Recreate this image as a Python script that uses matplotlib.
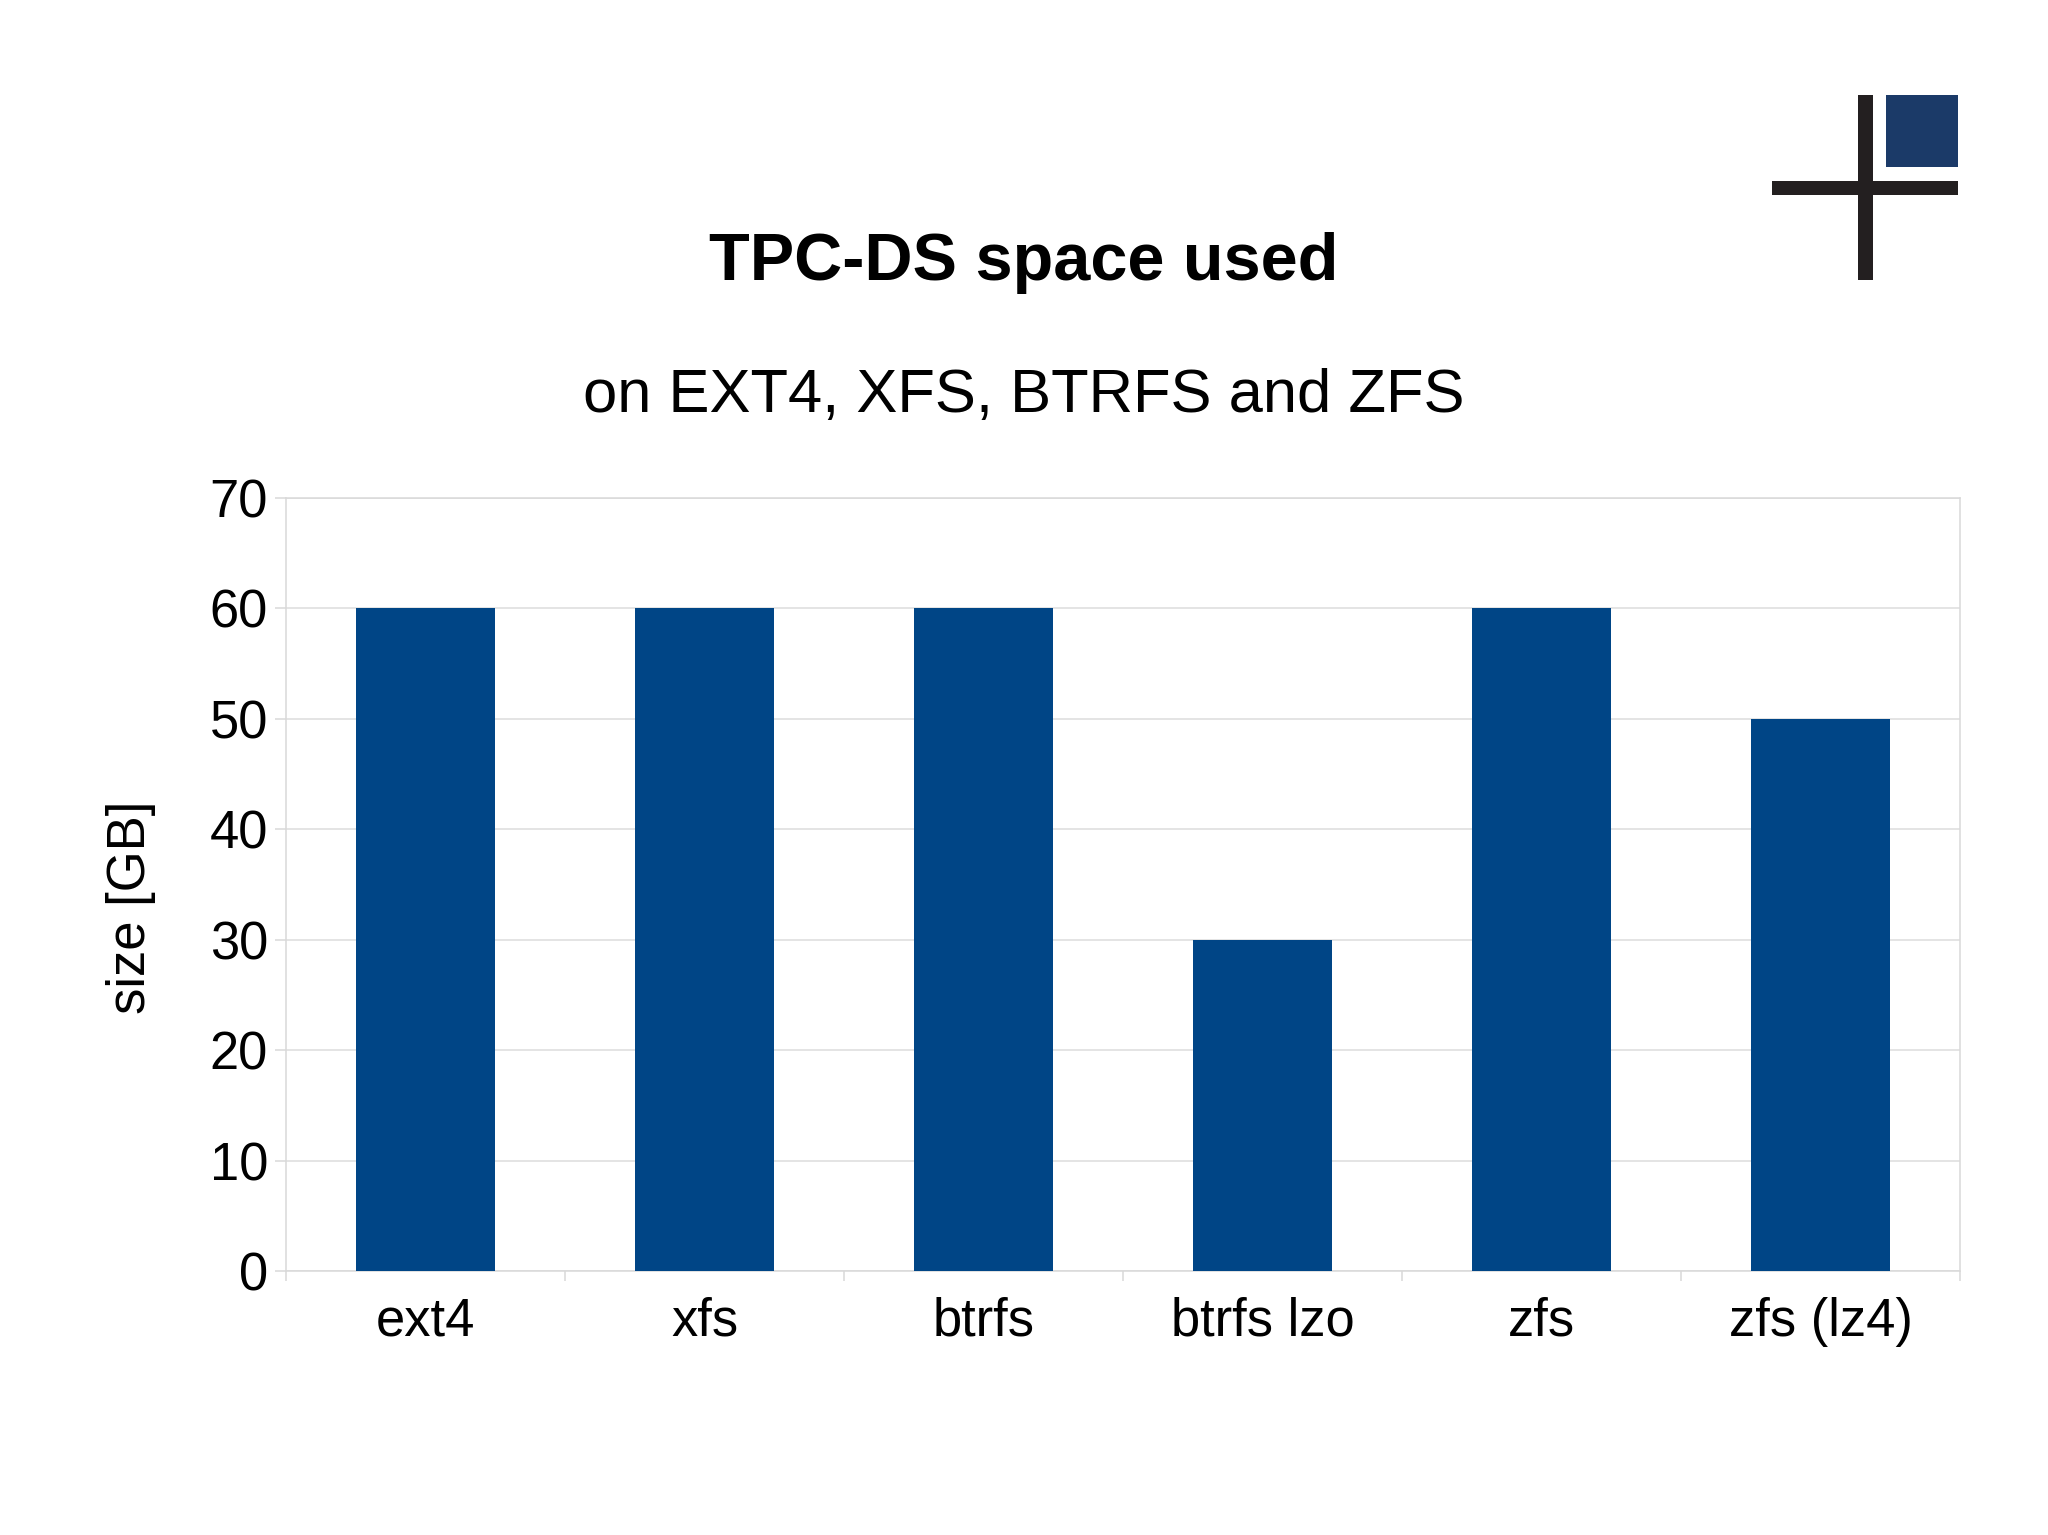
import matplotlib
matplotlib.use("Agg")
import matplotlib.pyplot as plt
from matplotlib.patches import Rectangle

categories = ["ext4", "xfs", "btrfs", "btrfs lzo", "zfs", "zfs (lz4)"]
values = [60, 60, 60, 30, 60, 50]
yticks = [0, 10, 20, 30, 40, 50, 60, 70]

W, H = 2048, 1535
plt.rcParams['font.family'] = ['Liberation Sans', 'DejaVu Sans']
fig = plt.figure(figsize=(W/100, H/100), dpi=100, facecolor='white')
L, R, T, B = 286, 1960, 498, 1271
ax = fig.add_axes([L/W, 1-B/H, (R-L)/W, (B-T)/H])
x = list(range(len(categories)))
ax.bar(x, values, width=0.5, color='#004586', zorder=3)
ax.set_xlim(-0.5, 5.5)
ax.set_ylim(0, 70)
ax.set_yticks(yticks)
ax.set_yticklabels([str(v) for v in yticks])
ax.set_xticks([i-0.5 for i in range(7)])
ax.set_xticklabels([])
ax.set_xticks(x, minor=True)
ax.set_xticklabels(categories, minor=True)
ax.tick_params(axis='x', which='major', length=7.5, width=1.1, color='#d9d9d9')
ax.tick_params(axis='x', which='minor', length=0, labelsize=37.8, pad=18.5, labelcolor='black')
ax.tick_params(axis='y', length=8, width=1.1, color='#d9d9d9', labelsize=37.8, pad=5, labelcolor='black')
ax.grid(axis='y', color='#dddddd', linewidth=1.1, zorder=0)
for s in ax.spines.values():
    s.set_color('#d9d9d9')
    s.set_linewidth(1.1)

fig.text(1024/W, 1-263/H, "TPC-DS space used", ha='center', va='center', fontsize=48, fontweight='bold', color='black')
fig.text(1024/W, 1-396/H, "on EXT4, XFS, BTRFS and ZFS", ha='center', va='center', fontsize=44.3, color='black')
fig.text(130.5/W, 1-907.5/H, "size [GB]", rotation=90, ha='center', va='center', fontsize=37.9, color='black')

# logo
def logo(x0, y0, x1, y1, c):
    fig.add_artist(Rectangle((x0/W, 1-y1/H), (x1-x0)/W, (y1-y0)/H, transform=fig.transFigure, facecolor=c, edgecolor='none'))
logo(1857.7, 94.7, 1872.7, 280, '#231f20')
logo(1772.3, 180.7, 1957.7, 195, '#231f20')
logo(1886, 94.7, 1957.7, 166.7, '#1b3a68')

fig.savefig("out.png", dpi=100, facecolor='white')
